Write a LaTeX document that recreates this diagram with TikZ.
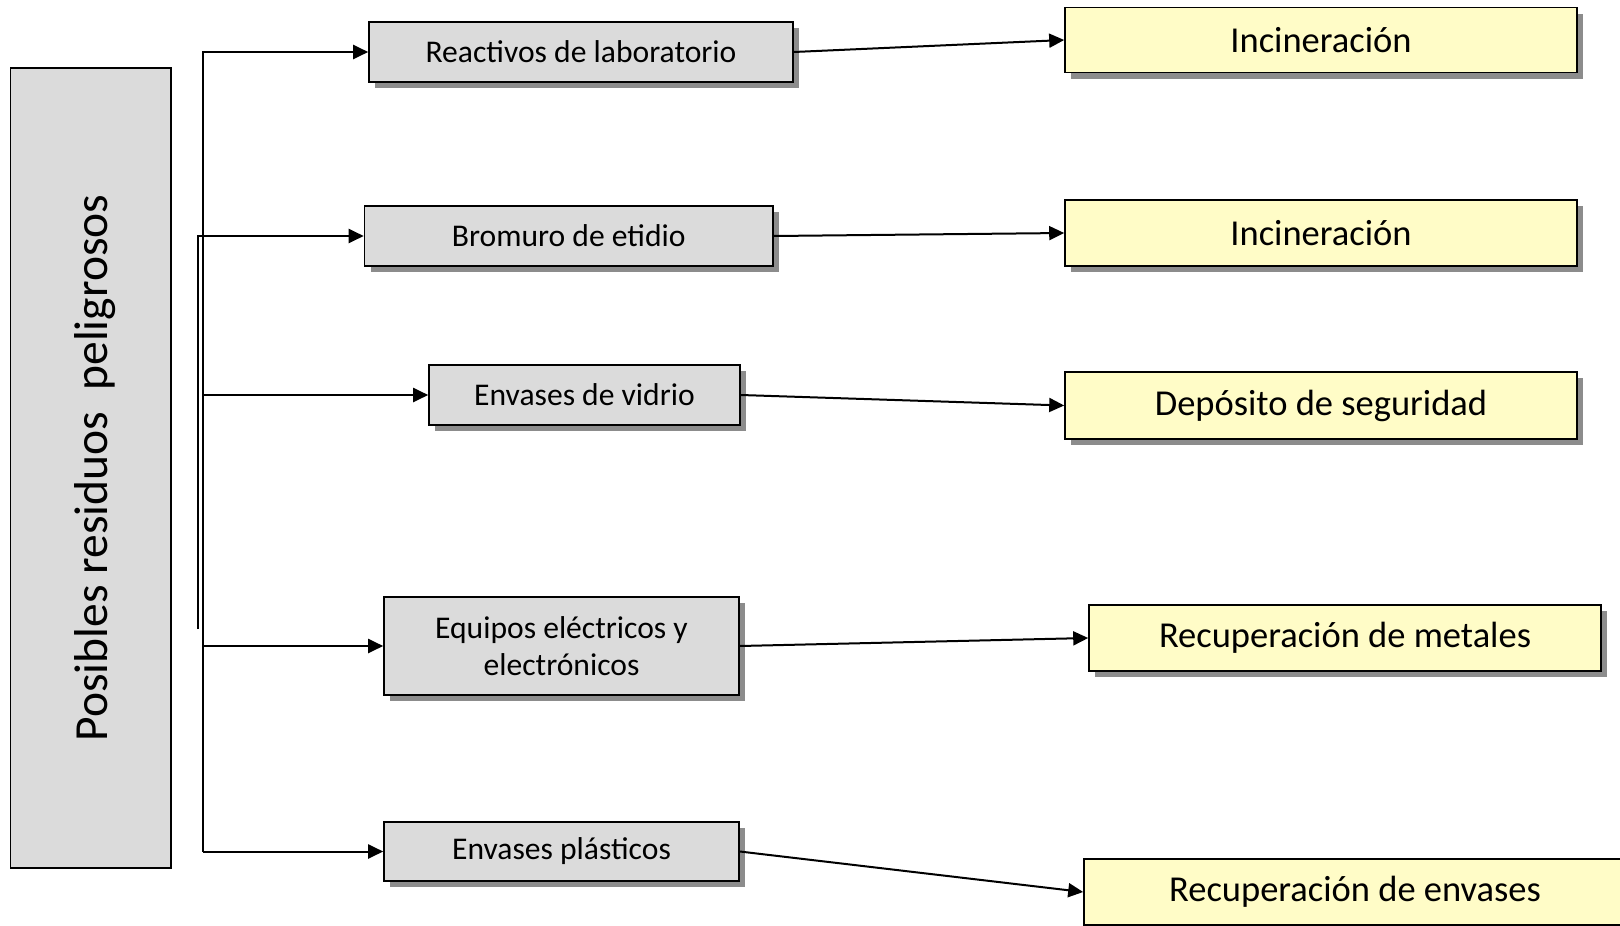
\documentclass[tikz,border=0pt]{standalone}
\usepackage{fontspec}
\setmainfont{Carlito}
\usetikzlibrary{arrows.meta,shadows}

\begin{document}
\begin{tikzpicture}[x=1pt, y=-1pt, >={Triangle[length=15pt, width=14pt]},
  waste/.style={draw, line width=1.6pt, fill=wastecolor, inner sep=0pt, align=center,
    font=\fontsize{31.6}{37.7}\selectfont,
    drop shadow={shadow xshift=6pt, shadow yshift=-6pt, fill=black!45, opacity=1}},
  treat/.style={draw, line width=1.6pt, fill=treatcolor, inner sep=0pt, minimum height=66pt,
    font=\fontsize{36.5}{44}\selectfont,
    drop shadow={shadow xshift=6pt, shadow yshift=-6pt, fill=black!45, opacity=1}},
  link/.style={line width=2pt}]

  % Page size
  \useasboundingbox (0,0) rectangle (1620,926);

  % Colors of the boxes
  \colorlet{wastecolor}{black!14}
  \colorlet{treatcolor}{yellow!22}

  % Left title box
  \node[draw, line width=1.6pt, fill=wastecolor, rotate=90, minimum width=800pt, minimum height=160.5pt,
    text depth=0pt, font=\fontsize{47.5}{57}\selectfont] (title) at (90.75,468) {Posibles residuos\ \ peligrosos};

  % Waste boxes
  \node[waste, minimum width=424pt, minimum height=60pt] (reac) at (581,52) {Reactivos de laboratorio};
  \node[waste, minimum width=408.5pt, minimum height=60pt] (brom) at (568.75,236) {Bromuro de etidio};
  \node[waste, minimum width=311pt, minimum height=60pt] (vid) at (584.5,395) {Envases de vidrio};
  \node[waste, minimum width=355pt, minimum height=98pt] (equi) at (561.5,646) {Equipos eléctricos y\\electrónicos};
  \node[waste, minimum width=355pt, minimum height=59pt] (plas) at (561.5,851.5) {Envases plásticos};

  % Treatment boxes
  \node[treat, minimum width=512pt, minimum height=65pt] (inc1) at (1321,40) {Incineración};
  \node[treat, minimum width=512pt] (inc2) at (1321,233) {Incineración};
  \node[treat, minimum width=512pt, minimum height=67pt] (dep) at (1321,405.5) {Depósito de seguridad};
  \node[treat, minimum width=512pt] (met) at (1345,638) {Recuperación de metales};
  \node[treat, minimum width=542pt] (env) at (1355,892) {Recuperación de envases};

  % Trunk and branches
  \coordinate (trunk) at (203,0);
  \draw[link, ->] (trunk |- plas.west) |- (reac.west); % trunk and top branch
  \draw[link, ->] (trunk |- plas.west) -- (plas.west);
  \foreach \n in {vid, equi}
    \draw[link, ->] (trunk |- \n.west) -- (\n.west);

  % Second line to the bromide box
  \coordinate (bend) at (198,629);
  \draw[link, ->] (bend) |- (brom.west);

  % Waste to treatment
  \draw[link, ->] (reac.east) -- (inc1.west);
  \draw[link, ->] (brom.east) -- (inc2.west);
  \draw[link, ->] (vid.east) -- (dep.west);
  \draw[link, ->] (equi.east) -- (met.west);
  \draw[link, ->] (plas.east) -- (env.west);

\end{tikzpicture}
\end{document}
